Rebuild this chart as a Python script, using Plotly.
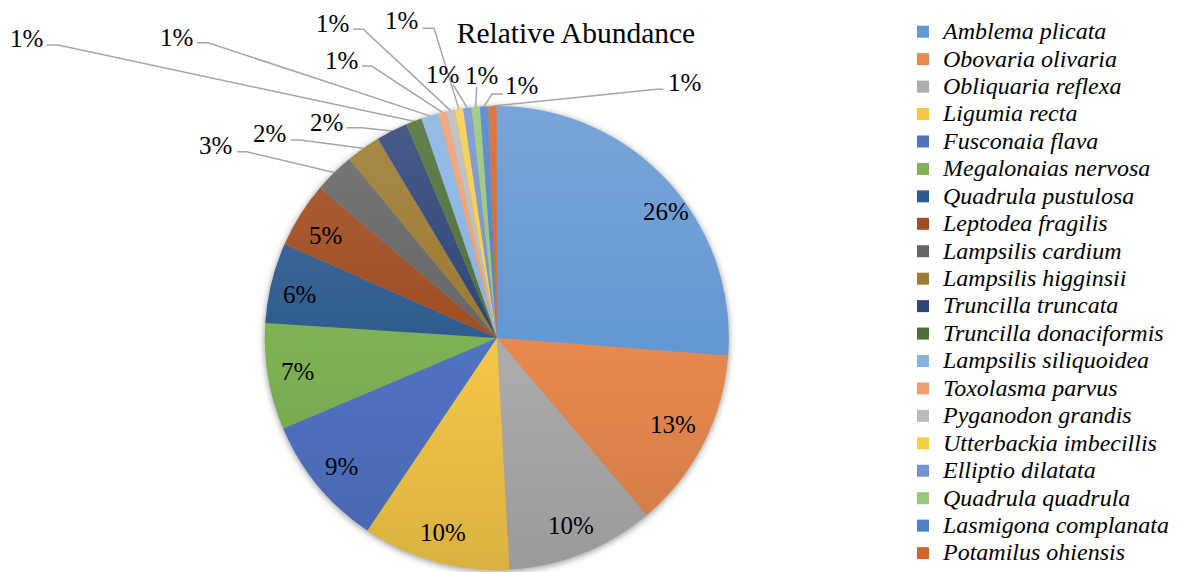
import base64
import math
import plotly.graph_objects as go

# Relative abundance (%) of mussel species, clockwise from 12 o'clock
species = [
    "Amblema plicata", "Obovaria olivaria", "Obliquaria reflexa", "Ligumia recta",
    "Fusconaia flava", "Megalonaias nervosa", "Quadrula pustulosa", "Leptodea fragilis",
    "Lampsilis cardium", "Lampsilis higginsii", "Truncilla truncata",
    "Truncilla donaciformis", "Lampsilis siliquoidea", "Toxolasma parvus",
    "Pyganodon grandis", "Utterbackia imbecillis", "Elliptio dilatata",
    "Quadrula quadrula", "Lasmigona complanata", "Potamilus ohiensis",
]
abundance = [26.2, 12.6, 10.3, 10.3, 9.2, 7.4, 5.6, 4.6, 2.8, 2.4, 2.2,
             1.1, 1.2, 0.58, 0.58, 0.58, 0.58, 0.58, 0.58, 0.58]
colors = [
    "#6498D3", "#E8894E", "#ADADAD", "#F5C748", "#5073C3", "#7DB254",
    "#2F5C8E", "#A04D22", "#666666", "#9C7A30", "#2E4577", "#4E6F36",
    "#86B3E1", "#EE9F72", "#BBBBBB", "#F7CE4A", "#7592D1", "#98C778",
    "#4C80CA", "#D1662D",
]

W, H = 1191, 572
CX, CY, R = 496.8, 338.0, 232.0      # pie centre / radius in pixels
LABEL_FONT = dict(family="Liberation Serif", size=25, color="#000000")
LEGEND_TEXT_PX = 24
LEADER = dict(color="#A6A6A6", width=1.5)

# Labels drawn outside the pie: text centre, leader start, leader knee (px)
outside = {
    "Lampsilis cardium":      ((215.0, 145.0), (237.0, 151.7), (246.7, 151.7)),
    "Lampsilis higginsii":    ((269.0, 133.5), (290.7, 140.0), (300.0, 140.0)),
    "Truncilla truncata":     ((326.0, 123.0), (346.7, 127.7), (361.7, 127.7)),
    "Truncilla donaciformis": ((26.0, 38.5), (46.7, 45.0), (58.0, 45.0)),
    "Lampsilis siliquoidea":  ((176.7, 37.5), (197.0, 42.7), (208.0, 42.7)),
    "Toxolasma parvus":       ((341.7, 60.5), (361.7, 66.0), (371.7, 66.0)),
    "Pyganodon grandis":      ((332.5, 23.5), (353.3, 29.3), (363.3, 29.3)),
    "Utterbackia imbecillis": ((401.3, 21.0), (422.7, 28.3), (434.0, 28.3)),
    "Elliptio dilatata":      ((442.5, 74.5), (453.3, 85.0), (453.3, 85.0)),
    "Quadrula quadrula":      ((481.7, 75.0), (476.7, 87.0), (476.7, 87.0)),
    "Lasmigona complanata":   ((521.7, 86.0), (503.0, 94.0), (492.0, 94.0)),
    "Potamilus ohiensis":     ((685.0, 82.5), (663.3, 89.3), (656.7, 89.3)),
}
# radial fraction / angle nudge for labels placed inside their slice
inside_tweak = {
    "Amblema plicata": (0.91, 6.0),
    "Obovaria olivaria": (0.845, -1.0),
    "Quadrula pustulosa": (0.87, -1.3),
    "Leptodea fragilis": (0.86, -1.3),
}


def px(x, y):
    return x / W, 1 - y / H


def svg_uri(svg):
    return "data:image/svg+xml;base64," + base64.b64encode(svg.encode()).decode()


total = sum(abundance)
legend_names = [f'<span style="font-size:{LEGEND_TEXT_PX}px">{s}</span>' for s in species]
fig = go.Figure(go.Pie(
    labels=legend_names, values=abundance, sort=False, direction="clockwise",
    rotation=0, marker=dict(colors=colors, line=dict(width=0)),
    textinfo="none", hoverinfo="label+percent",
    domain=dict(x=[(CX - R) / W, (CX + R) / W], y=[1 - (CY + R) / H, 1 - (CY - R) / H]),
))

annotations, shapes = [], []
cum = 0.0
for name, v in zip(species, abundance):
    a0 = cum / total * 360
    cum += v
    a1 = cum / total * 360
    mid = math.radians((a0 + a1) / 2)
    text = f"{round(v / total * 100)}%"
    if name in outside:
        (tx, ty), (sx, sy), (kx, ky) = outside[name]
        ex, ey = CX + R * math.sin(mid), CY - R * math.cos(mid)
        pts = [px(sx, sy), px(kx, ky), px(ex, ey)]
        path = "M {} {} L {} {} L {} {}".format(*[c for p in pts for c in p])
        shapes.append(dict(type="path", xref="paper", yref="paper", path=path,
                           line=LEADER, layer="below"))
    else:
        frac, nudge = inside_tweak.get(name, (0.87, 0.0))
        ang = mid + math.radians(nudge)
        tx, ty = CX + frac * R * math.sin(ang), CY - frac * R * math.cos(ang)
    x, y = px(tx, ty)
    annotations.append(dict(x=x, y=y, xref="paper", yref="paper", text=text,
                            showarrow=False, xanchor="center", yanchor="middle",
                            font=LABEL_FONT))

# soft drop shadow under the pie and a light-to-dark sheen over it
PAD = 24
side = 2 * (R + PAD)
shadow_svg = (
    f'<svg xmlns="http://www.w3.org/2000/svg" width="{side}" height="{side}">'
    '<defs><filter id="b" x="-20%" y="-20%" width="140%" height="140%">'
    '<feGaussianBlur stdDeviation="3"/></filter></defs>'
    f'<circle cx="{R + PAD}" cy="{R + PAD + 1.5}" r="{R + 0.5}" fill="#000" '
    'fill-opacity="0.38" filter="url(#b)"/></svg>'
)
sheen_svg = (
    f'<svg xmlns="http://www.w3.org/2000/svg" width="{side}" height="{side}">'
    '<defs><linearGradient id="g" x1="0" y1="0" x2="0" y2="1">'
    '<stop offset="0" stop-color="#fff" stop-opacity="0.13"/>'
    '<stop offset="0.5" stop-color="#fff" stop-opacity="0"/>'
    '<stop offset="0.5" stop-color="#000" stop-opacity="0"/>'
    '<stop offset="1" stop-color="#000" stop-opacity="0.11"/>'
    '</linearGradient></defs>'
    f'<circle cx="{R + PAD}" cy="{R + PAD}" r="{R}" fill="url(#g)"/></svg>'
)
images = []
for svg, layer in ((shadow_svg, "below"), (sheen_svg, "above")):
    x0, y0 = px(CX - R - PAD, CY - R - PAD)
    images.append(dict(source=svg_uri(svg), xref="paper", yref="paper",
                       x=x0, y=y0, sizex=side / W, sizey=side / H,
                       xanchor="left", yanchor="top", sizing="stretch",
                       layer=layer))

fig.update_layout(
    width=W, height=H, margin=dict(l=0, r=0, t=0, b=0),
    paper_bgcolor="white", plot_bgcolor="white",
    title=dict(text="Relative Abundance", x=576 / W, xanchor="center",
               y=1 - 33 / H, yanchor="middle",
               font=dict(family="Liberation Serif", size=29.5, color="#000000")),
    legend=dict(x=903 / W, xanchor="left", y=1 - 14 / H, yanchor="top",
                font=dict(family="Liberation Serif", size=18.8, color="#000000",
                          style="italic"),
                bgcolor="rgba(0,0,0,0)", traceorder="normal"),
    annotations=annotations, shapes=shapes, images=images,
)

fig.write_html("out.html")
